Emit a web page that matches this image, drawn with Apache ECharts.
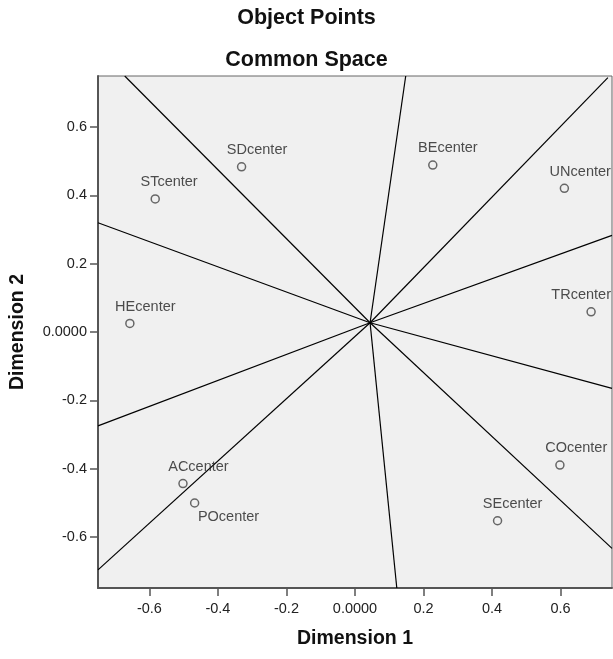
<!DOCTYPE html>
<html>
<head>
<meta charset="utf-8">
<script src="https://cdn.jsdelivr.net/npm/echarts@6/dist/echarts.min.js"></script>
<style>
html,body{margin:0;padding:0;background:#fff;}
#chart{width:613px;height:659px;}
</style>
</head>
<body>
<div id="chart"></div>
<script>
// ---- data ----
const pointNames = ['STcenter','SDcenter','HEcenter','BEcenter','UNcenter','TRcenter','ACcenter','POcenter','COcenter','SEcenter'];
const dim1 = [-0.583, -0.331, -0.657, 0.227, 0.611, 0.689, -0.502, -0.468, 0.598, 0.416];
const dim2 = [0.390, 0.484, 0.025, 0.489, 0.421, 0.059, -0.444, -0.501, -0.390, -0.553];

const rayOrigin = [0.044, 0.027];
const rayEndX = [-0.672, 0.148, 0.738, 0.75, 0.75, 0.75, 0.122, -0.75, -0.75, -0.75];
const rayEndY = [0.75, 0.75, 0.745, 0.283, -0.165, -0.634, -0.75, -0.697, -0.275, 0.320];

const tickValues = [-0.6, -0.4, -0.2, 0, 0.2, 0.4, 0.6];
const axisMin = -0.75, axisMax = 0.75;

// ---- styling ----
const FONT = "'Liberation Sans', Arial, sans-serif";
const labelPos = { POcenter: [8, 19], TRcenter: [-35, -12] };
const defaultLabelPos = [-10, -12];

const fmt = v => (Math.abs(v) < 1e-9 ? '0.0000' : v.toFixed(1));

const axisCommon = {
  type: 'value',
  min: axisMin,
  max: axisMax,
  nameLocation: 'middle',
  nameTextStyle: { fontFamily: FONT, fontWeight: 'bold', fontSize: 19.5, color: '#111' },
  axisLine: { show: true, onZero: false, lineStyle: { color: '#555', width: 2 } },
  axisTick: { show: true, inside: false, length: 8, customValues: tickValues, lineStyle: { color: '#555', width: 1.5 } },
  axisLabel: { customValues: tickValues, formatter: fmt, fontFamily: FONT, fontSize: 14.5, color: '#222' },
  splitLine: { show: false }
};

const series = [];
for (let i = 0; i < rayEndX.length; i++) {
  series.push({
    type: 'line',
    data: [[rayOrigin[0], rayOrigin[1]], [rayEndX[i], rayEndY[i]]],
    symbol: 'none',
    lineStyle: { color: '#000', width: 1.2 },
    silent: true,
    z: 2
  });
}
series.push({
  type: 'scatter',
  z: 3,
  symbol: 'circle',
  symbolSize: 8,
  itemStyle: { color: '#f0f0f0', borderColor: '#444', borderWidth: 1.5 },
  label: {
    show: true,
    formatter: p => p.name,
    fontFamily: FONT,
    fontSize: 14.5,
    color: '#222',
    align: 'left',
    verticalAlign: 'middle'
  },
  data: pointNames.map((n, i) => ({
    name: n,
    value: [dim1[i], dim2[i]],
    label: { position: labelPos[n] || defaultLabelPos }
  }))
});

const chart = echarts.init(document.getElementById('chart'), null, { renderer: 'canvas' });
chart.setOption({
  animation: false,
  backgroundColor: '#fff',
  title: [
    { text: 'Object Points', left: 'center', top: 7, padding: 0,
      textStyle: { fontFamily: FONT, fontWeight: 'bold', fontSize: 21.5, color: '#111' } },
    { text: 'Common Space', left: 'center', top: 49, padding: 0,
      textStyle: { fontFamily: FONT, fontWeight: 'bold', fontSize: 21.5, color: '#111' } }
  ],
  grid: {
    left: 97, right: 1, top: 76, bottom: 71,
    show: true, backgroundColor: '#f0f0f0', borderColor: '#666', borderWidth: 1
  },
  xAxis: Object.assign({}, axisCommon, {
    name: 'Dimension 1', nameGap: 41,
    axisLabel: Object.assign({}, axisCommon.axisLabel, { margin: 13 })
  }),
  yAxis: Object.assign({}, axisCommon, {
    name: 'Dimension 2', nameGap: 70,
    axisLabel: Object.assign({}, axisCommon.axisLabel, { margin: 11 })
  }),
  series: series
});
</script>
</body>
</html>
